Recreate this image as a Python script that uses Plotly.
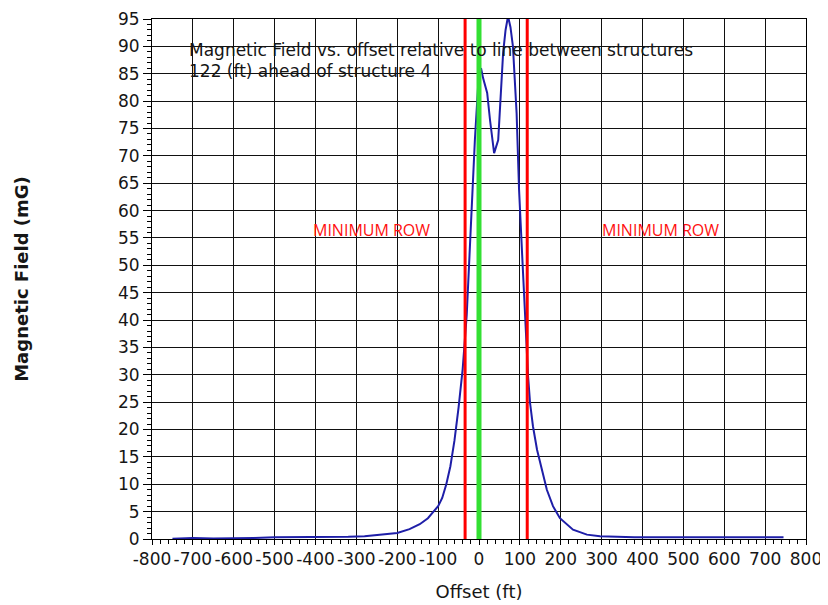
"""Magnetic field profile across the line between structures."""

import plotly.graph_objects as go

# Offset relative to line between structures (ft) and field (mG)
offset_ft = [
    -750, -700, -650, -600, -550, -500, -450, -400, -350, -320,
    -280, -240, -200, -170, -145, -125, -110, -100, -90, -80,
    -70, -60, -50, -40, -30, -20, -10, 0, 5, 10,
    20, 27, 37, 47, 52, 59, 65, 71, 77, 83,
    92, 98, 105, 112, 120, 125, 132, 142, 154, 166,
    181, 198, 230, 264, 296, 340, 380, 450, 550, 650,
    745,
]
field_mg = [
    0.05, 0.2, 0.1, 0.1, 0.2, 0.3, 0.3, 0.3, 0.35, 0.4,
    0.5, 0.8, 1.1, 1.8, 2.7, 3.8, 5.0, 6.0, 7.5, 10.0,
    13.3, 18.0, 24.0, 31.0, 41.0, 57.0, 73.0, 85.5, 86.0, 84.2,
    81.5, 76.5, 70.5, 72.9, 79.6, 88.8, 93.0, 95.5, 93.5, 90.0,
    77.8, 63.8, 52.8, 40.7, 29.8, 24.8, 20.6, 16.3, 12.4, 9.0,
    6.0, 3.8, 1.7, 0.8, 0.5, 0.4, 0.3, 0.3, 0.3, 0.3,
    0.3,
]

row_edges_ft = [-34, 118]
centerline_ft = [0]

x_tickvals = list(range(-800, 801, 100))
x_ticktext = [str(v) for v in x_tickvals]  # plain hyphen, like the original
y_tickvals = list(range(0, 96, 5))

title_lines = [
    "Magnetic Field vs. offset relative to line between structures",
    "122 (ft) ahead of structure 4",
]

INK = "#161616"
TICK_FONT = {"family": "DejaVu Sans", "size": 17, "color": INK}

fig = go.Figure()
fig.add_trace(
    go.Scatter(
        x=offset_ft,
        y=field_mg,
        mode="lines",
        line={"color": "#1E1EA8", "width": 2},
        showlegend=False,
    )
)

for x in row_edges_ft:
    fig.add_vline(x=x, line={"color": "#FF0000", "width": 3})
for x in centerline_ft:
    fig.add_vline(x=x, line={"color": "#33E033", "width": 5})

# two separate lines so the spacing stays tight like the original
for line_text, y_pos in zip(title_lines, (0.941, 0.900)):
    fig.add_annotation(
        x=0.053, y=y_pos, xref="paper", yref="paper",
        xanchor="left", yanchor="middle", align="left",
        text=line_text, showarrow=False,
        font={"family": "DejaVu Sans", "size": 17, "color": INK},
    )
for x_ft in (-263, 444):
    fig.add_annotation(
        x=x_ft, y=56.4, text="MINIMUM ROW", showarrow=False,
        font={"family": "Open Sans", "size": 16, "color": "#FF1010"},
    )

axis_common = {
    "showline": True,
    "linecolor": "black",
    "linewidth": 1,
    "mirror": True,
    "showgrid": True,
    "gridcolor": "#111111",
    "gridwidth": 1,
    "zeroline": False,
    "ticks": "outside",
    "tickcolor": "black",
    "tickfont": TICK_FONT,
    "tickangle": 0,
    "automargin": False,
}

fig.update_xaxes(
    range=[-800, 800],
    tickvals=x_tickvals,
    ticktext=x_ticktext,
    ticklen=5,
    minor={"dtick": 20, "ticks": "outside", "ticklen": 4, "tickcolor": "black", "showgrid": False},
    title={"text": "Offset (ft)", "font": {"family": "DejaVu Sans", "size": 18, "color": INK}, "standoff": 16},
    **axis_common,
)
fig.update_yaxes(
    range=[0, 95],
    tickvals=y_tickvals,
    ticklen=8,
    minor={"dtick": 1, "ticks": "outside", "ticklen": 4, "tickcolor": "black", "showgrid": False},
    title={"text": "<b>Magnetic Field (mG)</b>", "font": {"family": "DejaVu Sans", "size": 18, "color": INK}, "standoff": 84},
    **axis_common,
)

# page body adds an 8px margin, so the figure is sized to fit inside it;
# a few px of top margin keeps the "95" label inside the figure
fig.update_layout(
    width=820,
    height=597,
    margin={"l": 144, "r": 22, "t": 11, "b": 66},
    paper_bgcolor="white",
    plot_bgcolor="white",
)

fig.write_html("out.html")
